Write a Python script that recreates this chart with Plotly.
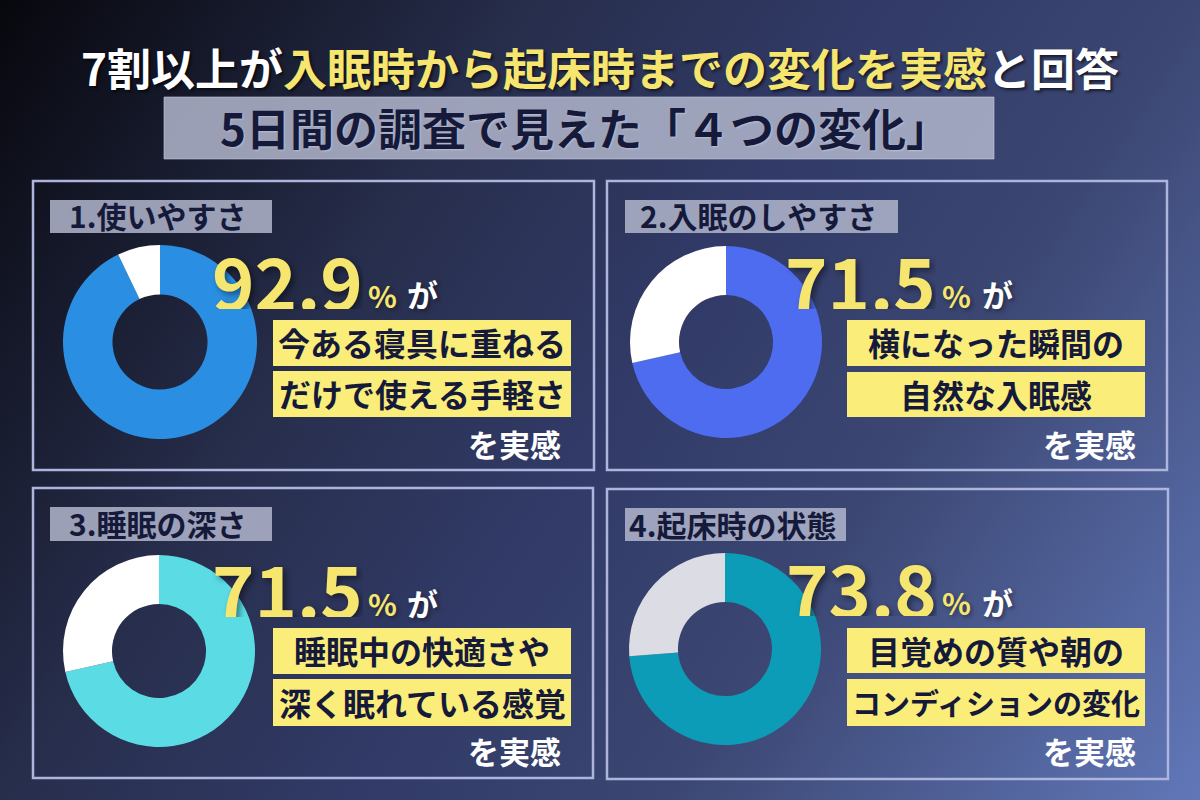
import base64
import plotly.graph_objects as go

# ---------------- data ----------------
title_white_1 = "7割以上が"
title_yellow = "入眠時から起床時までの変化を実感"
title_white_2 = "と回答"
subtitle = "5日間の調査で見えた「４つの変化」"

labels = ["1.使いやすさ", "2.入眠のしやすさ", "3.睡眠の深さ", "4.起床時の状態"]
percent = [92.9, 71.5, 71.5, 73.8]
line1 = ["今ある寝具に重ねる", "横になった瞬間の", "睡眠中の快適さや", "目覚めの質や朝の"]
line2 = ["だけで使える手軽さ", "自然な入眠感", "深く眠れている感覚", "コンディションの変化"]
suffix_pct = "%"
suffix_ga = "が"
suffix_end = "を実感"

# ---------------- styles / layout ----------------
ring_colors = ["#2a8fe2", "#4e6cf0", "#5bdce4", "#0d9cb7"]
rest_colors = ["#ffffff", "#ffffff", "#ffffff", "#dcdde4"]
YELLOW = "#f6e670"
BOXY = "#fbed7a"
NAVY = "#161a3a"
GRAYBOX = "rgba(178,182,205,0.85)"
FONT = "Noto Sans CJK JP"

W, H = 1200, 800

def fx(x):
    return x / W

def fy(y):
    return 1 - y / H

# per-panel geometry (pixels)
panels = [
    dict(border=(33, 181, 594, 470), lab=(50, 200, 272, 233), c=(160, 342), r=97,
         num=(287, 279), pct=(382, 295), ga=(422, 294), bx=(273, 571),
         b1=(320, 366), b2=(371, 417), end=(563, 443), fs2=32),
    dict(border=(607, 181, 1167, 470), lab=(625, 200, 898, 233), c=(726, 342), r=96,
         num=(860, 279), pct=(956, 295), ga=(997, 294), bx=(847, 1145),
         b1=(320, 366), b2=(372, 417), end=(1138, 443), fs2=32),
    dict(border=(33, 488, 593, 778), lab=(50, 507, 272, 541), c=(159, 651), r=96,
         num=(287, 587), pct=(382, 603), ga=(422, 602), bx=(273, 571),
         b1=(628, 674), b2=(679, 726), end=(563, 750), fs2=32),
    dict(border=(607, 489, 1168, 779), lab=(625, 508, 846, 541), c=(725, 649), r=96,
         num=(861, 586), pct=(956, 602), ga=(997, 601), bx=(847, 1145),
         b1=(628, 673), b2=(679, 726), end=(1138, 750), fs2=29),
]

# background gradient as svg image
svg = (
    '<svg xmlns="http://www.w3.org/2000/svg" width="1200" height="800">'
    '<defs><linearGradient id="g" gradientUnits="userSpaceOnUse" x1="0" y1="0" x2="1200" y2="800">'
    '<stop offset="0" stop-color="#07070d"/>'
    '<stop offset="0.31" stop-color="#272e4c"/>'
    '<stop offset="0.5" stop-color="#313a66"/>'
    '<stop offset="0.69" stop-color="#3b4672"/>'
    '<stop offset="1" stop-color="#6177b8"/>'
    '</linearGradient></defs><rect width="1200" height="800" fill="url(#g)"/></svg>'
)
bg_src = "data:image/svg+xml;base64," + base64.b64encode(svg.encode()).decode()

fig = go.Figure()
shapes = []
ann = []

# title
ann.append(dict(
    x=fx(600), y=fy(67), xref="paper", yref="paper", xanchor="center", yanchor="middle",
    showarrow=False,
    text=(f'<span style="color:#ffffff">{title_white_1}</span>'
          f'<span style="color:{YELLOW}">{title_yellow}</span>'
          f'<span style="color:#ffffff">{title_white_2}</span>'),
    font=dict(family=FONT, size=44, weight="bold", color="#ffffff",
              shadow="2px 2px 3px rgba(0,0,0,0.6)"),
))
# subtitle box + text
shapes.append(dict(type="rect", xref="paper", yref="paper", x0=fx(164), x1=fx(994),
                   y0=fy(159), y1=fy(97), fillcolor=GRAYBOX, line=dict(width=1, color="rgba(200,204,225,0.6)"),
                   layer="above"))
ann.append(dict(
    x=fx(585), y=fy(127), xref="paper", yref="paper", xanchor="center", yanchor="middle",
    showarrow=False, text=subtitle,
    font=dict(family=FONT, size=44, weight="bold", color=NAVY,
              shadow="1px 1px 2px rgba(255,255,255,0.3)"),
))

for i, p in enumerate(panels):
    # border
    x0, y0, x1, y1 = p["border"]
    shapes.append(dict(type="rect", xref="paper", yref="paper", x0=fx(x0), x1=fx(x1),
                       y0=fy(y1), y1=fy(y0), line=dict(color="#adb5dc", width=2.5),
                       fillcolor="rgba(0,0,0,0)", layer="below"))
    # label box
    lx0, ly0, lx1, ly1 = p["lab"]
    shapes.append(dict(type="rect", xref="paper", yref="paper", x0=fx(lx0), x1=fx(lx1),
                       y0=fy(ly1), y1=fy(ly0), fillcolor=GRAYBOX, line=dict(width=0),
                       layer="above"))
    ann.append(dict(x=fx((lx0 + lx1) / 2 - 3), y=fy((ly0 + ly1) / 2 - 1), xref="paper", yref="paper",
                    xanchor="center", yanchor="middle", showarrow=False, text=labels[i],
                    font=dict(family=FONT, size=30, weight="bold", color=NAVY)))
    # donut
    cx, cy = p["c"]
    r = p["r"]
    fig.add_trace(go.Pie(
        values=[percent[i], round(100 - percent[i], 1)],
        labels=["実感", "その他"],
        marker=dict(colors=[ring_colors[i], rest_colors[i]], line=dict(width=0)),
        hole=0.49, sort=False, direction="clockwise", rotation=0,
        textinfo="none", hoverinfo="skip", showlegend=False,
        domain=dict(x=[fx(cx - r), fx(cx + r)], y=[fy(cy + r), fy(cy - r)]),
    ))
    # big number
    nx, ny = p["num"]
    ann.append(dict(x=fx(nx), y=fy(ny), xref="paper", yref="paper", xanchor="center",
                    yanchor="middle", showarrow=False, text=f"{percent[i]:.1f}",
                    height=60,
                    font=dict(family=FONT, size=72, weight="bold", color=YELLOW,
                              shadow="3px 3px 6px rgba(0,0,0,0.45)")))
    px_, py_ = p["pct"]
    ann.append(dict(x=fx(px_), y=fy(py_), xref="paper", yref="paper", xanchor="center",
                    yanchor="middle", showarrow=False, text=suffix_pct,
                    font=dict(family=FONT, size=30, weight="bold", color=YELLOW,
                              shadow="2px 2px 4px rgba(0,0,0,0.4)")))
    gx, gy = p["ga"]
    ann.append(dict(x=fx(gx), y=fy(gy), xref="paper", yref="paper", xanchor="center",
                    yanchor="middle", showarrow=False, text=suffix_ga,
                    font=dict(family=FONT, size=31, weight="bold", color="#ffffff",
                              shadow="2px 2px 4px rgba(0,0,0,0.4)")))
    # yellow boxes
    bx0, bx1 = p["bx"]
    for (by0, by1), txt, fs in ((p["b1"], line1[i], 32), (p["b2"], line2[i], p["fs2"])):
        shapes.append(dict(type="rect", xref="paper", yref="paper", x0=fx(bx0), x1=fx(bx1),
                           y0=fy(by1), y1=fy(by0), fillcolor=BOXY, line=dict(width=0),
                           layer="above"))
        ann.append(dict(x=fx((bx0 + bx1) / 2), y=fy((by0 + by1) / 2 - 1), xref="paper",
                        yref="paper", xanchor="center", yanchor="middle", showarrow=False,
                        text=txt, font=dict(family=FONT, size=fs, weight="bold", color=NAVY)))
    ex, ey = p["end"]
    ann.append(dict(x=fx(ex), y=fy(ey), xref="paper", yref="paper", xanchor="right",
                    yanchor="middle", showarrow=False, text=suffix_end,
                    font=dict(family=FONT, size=31, weight="bold", color="#ffffff")))

fig.update_layout(
    width=W, height=H, margin=dict(l=0, r=0, t=0, b=0),
    paper_bgcolor="#2a3258", plot_bgcolor="rgba(0,0,0,0)",
    shapes=shapes, annotations=ann,
    images=[dict(source=bg_src, xref="paper", yref="paper", x=0, y=1, sizex=1, sizey=1,
                 sizing="stretch", xanchor="left", yanchor="top", layer="below")],
    font=dict(family=FONT),
)

fig.write_html("out.html")
